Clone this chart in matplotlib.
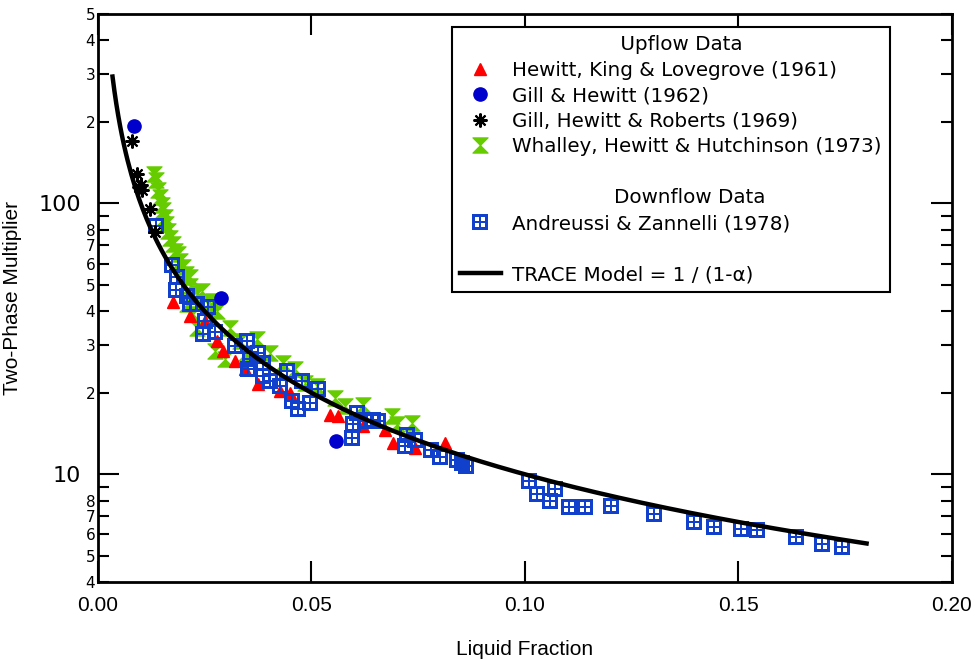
import numpy as np
import matplotlib
matplotlib.use("Agg")
import matplotlib.pyplot as plt
from matplotlib.path import Path
from matplotlib.lines import Line2D
from matplotlib.ticker import FixedLocator, FixedFormatter, NullLocator

# ---------------------------------------------------------
# data
# ---------------------------------------------------------
hkl_x = [0.0176, 0.0215, 0.0251, 0.0278, 0.0293, 0.0321, 0.0344, 0.0375, 0.0426,
         0.0450, 0.0543, 0.0563, 0.0621, 0.0672, 0.0692, 0.0742, 0.0813]
hkl_y = [43.1, 38.5, 36.9, 31.1, 28.5, 26.2, 24.5, 21.5, 20.3,
         20.0, 16.6, 16.4, 15.1, 14.6, 13.1, 12.5, 13.1]

gh_x = [0.0085, 0.0289, 0.0557]
gh_y = [193.0, 44.7, 13.3]

ghr_x = [0.0079, 0.0091, 0.0096, 0.0100, 0.0102, 0.0122, 0.0133]
ghr_y = [170.0, 129.0, 114.6, 116.6, 111.7, 95.6, 78.3]

whh_x = [0.0132, 0.0137, 0.0141, 0.0145, 0.0149, 0.0152, 0.0157, 0.0160, 0.0165,
         0.0169, 0.0176, 0.0180, 0.0188, 0.0192, 0.0200, 0.0206, 0.0215, 0.0215,
         0.0235, 0.0208, 0.0223, 0.0231, 0.0243, 0.0258, 0.0270, 0.0278, 0.0309,
         0.0274, 0.0297, 0.0333, 0.0347, 0.0372, 0.0403, 0.0434, 0.0461, 0.0485,
         0.0512, 0.0555, 0.0578, 0.0621, 0.0688, 0.0700, 0.0735]
whh_y = [128.8, 121.7, 111.7, 105.5, 98.3, 94.2, 89.0, 84.3, 79.4,
         74.8, 70.9, 67.0, 65.1, 61.5, 58.1, 55.0, 53.3, 49.7,
         46.9, 42.5, 39.0, 34.8, 47.6, 42.5, 43.7, 40.2, 34.8,
         28.5, 26.7, 31.1, 28.1, 31.6, 28.1, 25.8, 24.4, 21.8,
         21.2, 19.2, 17.9, 18.1, 16.4, 15.3, 15.5]

az_x = [0.0137, 0.0173, 0.0186, 0.0183, 0.0208, 0.0215, 0.0231, 0.0258, 0.0251,
        0.0247, 0.0274, 0.0348, 0.0321, 0.0375, 0.0356, 0.0387, 0.0352, 0.0387,
        0.0442, 0.0403, 0.0426, 0.0477, 0.0516, 0.0454, 0.0469, 0.0496, 0.0606,
        0.0598, 0.0594, 0.0625, 0.0645, 0.0656, 0.0723, 0.0742, 0.0719, 0.0781,
        0.0801, 0.0840, 0.0852, 0.0863, 0.1010, 0.1027, 0.1070, 0.1059, 0.1103,
        0.1141, 0.1201, 0.1303, 0.1396, 0.1443, 0.1507, 0.1543, 0.1635, 0.1695,
        0.1742]
az_y = [82.9, 59.3, 53.3, 47.9, 45.6, 42.5, 42.5, 41.3, 36.9,
        32.9, 33.4, 31.1, 29.8, 28.1, 26.6, 25.8, 24.4, 23.1,
        24.1, 22.1, 21.2, 22.1, 20.6, 18.6, 17.4, 18.4, 16.9,
        15.3, 13.6, 15.7, 15.9, 15.7, 14.0, 13.4, 12.7, 12.3,
        11.6, 11.3, 11.0, 10.7, 9.42, 8.46, 8.86, 7.99, 7.60,
        7.57, 7.61, 7.13, 6.68, 6.38, 6.30, 6.21, 5.86, 5.52,
        5.38]

# model curve range (liquid fraction)
MODEL_XMIN = 0.0034
MODEL_XMAX = 0.18

# ---------------------------------------------------------
# styles
# ---------------------------------------------------------
RED = "#ff0000"
DARK_BLUE = "#0000cc"
SQ_BLUE = "#1040cc"
GREEN = "#66cc00"

FONT = "DejaVu Sans"
NARROW = ["Liberation Sans Narrow", "Liberation Sans", "DejaVu Sans"]

plt.rcParams["font.family"] = FONT


def hourglass_marker():
    # two triangles meeting at the centre
    verts = [(-1, 1), (1, 1), (0, 0), (-1, 1),
             (0, 0), (1, -1), (-1, -1), (0, 0)]
    codes = [Path.MOVETO, Path.LINETO, Path.LINETO, Path.CLOSEPOLY,
             Path.MOVETO, Path.LINETO, Path.LINETO, Path.CLOSEPOLY]
    return Path(verts, codes)


def window_square_marker():
    verts = [(-1, -1), (1, -1), (1, 1), (-1, 1), (-1, -1)]
    codes = [Path.MOVETO, Path.LINETO, Path.LINETO, Path.LINETO, Path.CLOSEPOLY]
    w = 0.53
    for x0, y0 in [(-0.69, -0.69), (0.16, -0.69), (-0.69, 0.16), (0.16, 0.16)]:
        verts += [(x0, y0), (x0, y0 + w), (x0 + w, y0 + w), (x0 + w, y0), (x0, y0)]
        codes += [Path.MOVETO, Path.LINETO, Path.LINETO, Path.LINETO, Path.CLOSEPOLY]
    return Path(verts, codes)


HOURGLASS = hourglass_marker()
WINSQ = window_square_marker()

styles = {
    "hkl": dict(marker="^", ms=9, color=RED, mec=RED, ls="none"),
    "gh": dict(marker="o", ms=9.5, color=DARK_BLUE, mec=DARK_BLUE, ls="none"),
    "ghr": dict(marker=(8, 2, 0), ms=10, color="black", mew=1.5, ls="none"),
    "whh": dict(marker=HOURGLASS, ms=11, color=GREEN, mec=GREEN, mew=0.8, ls="none"),
    "az": dict(marker=WINSQ, ms=11, color=SQ_BLUE, mec=SQ_BLUE, mew=0, ls="none"),
}

# ---------------------------------------------------------
# plot
# ---------------------------------------------------------
fig = plt.figure(figsize=(9.8, 6.6), dpi=100)
ax = fig.add_axes([0.1, 0.118, 0.8714, 0.8606])

ax.plot(whh_x, whh_y, zorder=2, **styles["whh"])
ax.plot(hkl_x, hkl_y, zorder=3, **styles["hkl"])
ax.plot(az_x, az_y, zorder=4, **styles["az"])
ax.plot(gh_x, gh_y, zorder=4, **styles["gh"])
ax.plot(ghr_x, ghr_y, zorder=6, **styles["ghr"])

xm = np.linspace(MODEL_XMIN, MODEL_XMAX, 400)
ax.plot(xm, 1.0 / xm, color="black", lw=3.2, zorder=5)

ax.set_yscale("log")
ax.set_xlim(0.0, 0.2)
ax.set_ylim(4, 500)

# x ticks
xt = [0.0, 0.05, 0.10, 0.15, 0.20]
ax.set_xticks(xt)
ax.set_xticklabels([f"{v:.2f}" for v in xt], family=NARROW, fontsize=15)
ax.xaxis.set_minor_locator(NullLocator())

# y ticks: majors at decades, minors with single-digit labels (no label on 9s)
ax.yaxis.set_major_locator(FixedLocator([10, 100]))
ax.yaxis.set_major_formatter(FixedFormatter(["10", "100"]))
minor_vals = []
minor_labs = []
for dec in [1, 10, 100]:
    for d in range(2, 10):
        v = d * dec
        if 4 <= v <= 500:
            minor_vals.append(v)
            minor_labs.append("" if d == 9 else str(d))
ax.yaxis.set_minor_locator(FixedLocator(minor_vals))
ax.yaxis.set_minor_formatter(FixedFormatter(minor_labs))

ax.tick_params(axis="both", which="major", direction="in", length=15, width=1.5,
               top=True, right=True)
ax.tick_params(axis="y", which="minor", direction="in", length=8, width=1.5,
               right=True, labelsize=11, pad=2)
ax.tick_params(axis="y", which="major", labelsize=16, pad=12)
ax.tick_params(axis="x", which="major", pad=10)

for sp in ax.spines.values():
    sp.set_linewidth(2)

ax.set_xlabel("Liquid Fraction", family=NARROW, fontsize=15, labelpad=18)
ax.set_ylabel("Two-Phase Multiplier", family=NARROW, fontsize=15, labelpad=12)

# ---------------------------------------------------------
# legend with section headers
# ---------------------------------------------------------
blank = Line2D([], [], color="none")
handles = [
    blank,
    Line2D([], [], **styles["hkl"]),
    Line2D([], [], **styles["gh"]),
    Line2D([], [], **styles["ghr"]),
    Line2D([], [], **styles["whh"]),
    blank,
    blank,
    Line2D([], [], **styles["az"]),
    blank,
    Line2D([], [], color="black", lw=3.2),
]
labels = [
    " " * 17 + "Upflow Data",
    "Hewitt, King & Lovegrove (1961)",
    "Gill & Hewitt (1962)",
    "Gill, Hewitt & Roberts (1969)",
    "Whalley, Hewitt & Hutchinson (1973)",
    "",
    " " * 16 + "Downflow Data",
    "Andreussi & Zannelli (1978)",
    "",
    "TRACE Model = 1 / (1-\u03b1)",
]
leg = ax.legend(handles, labels, loc="upper right", bbox_to_anchor=(0.927, 0.977),
                fontsize=14.3, frameon=True, fancybox=False, framealpha=1,
                edgecolor="black", handlelength=2.1, handletextpad=0.55,
                labelspacing=0.33, borderpad=0.4, borderaxespad=0)
leg.get_frame().set_linewidth(1.5)

fig.savefig("out.png", dpi=100)
